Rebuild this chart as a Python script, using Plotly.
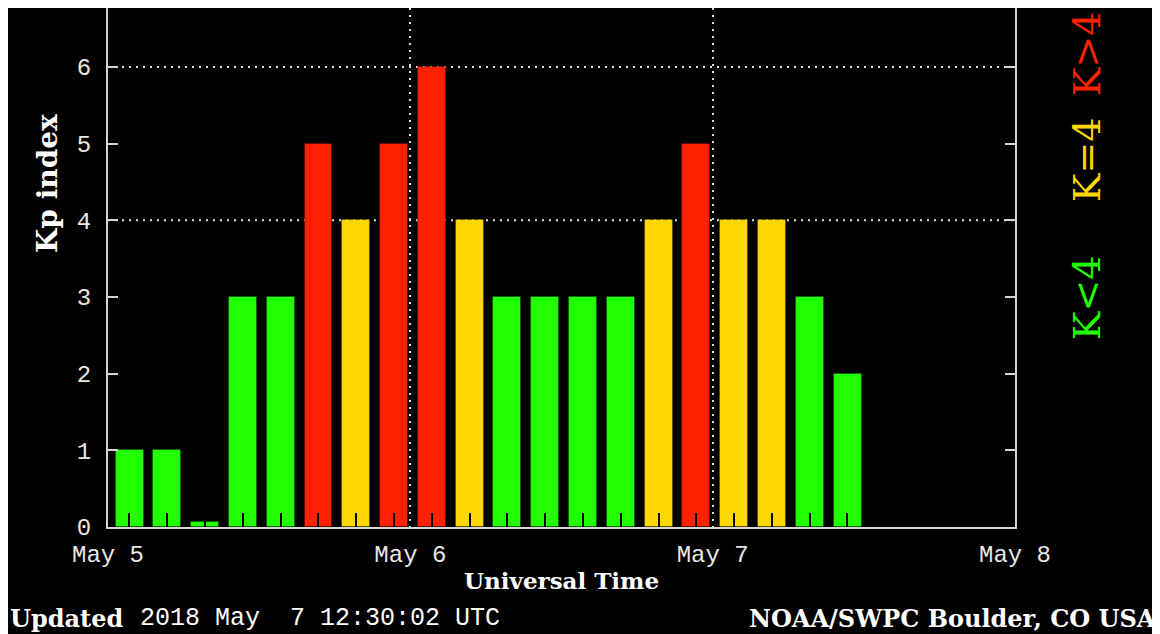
import plotly.graph_objects as go

# ---- data ----
interval_start = [
    "2018-05-05 00:00", "2018-05-05 03:00", "2018-05-05 06:00", "2018-05-05 09:00",
    "2018-05-05 12:00", "2018-05-05 15:00", "2018-05-05 18:00", "2018-05-05 21:00",
    "2018-05-06 00:00", "2018-05-06 03:00", "2018-05-06 06:00", "2018-05-06 09:00",
    "2018-05-06 12:00", "2018-05-06 15:00", "2018-05-06 18:00", "2018-05-06 21:00",
    "2018-05-07 00:00", "2018-05-07 03:00", "2018-05-07 06:00", "2018-05-07 09:00",
]
kp_values = [1, 1, 0.07, 3, 3, 5, 4, 5,
             6, 4, 3, 3, 3, 3, 4, 5,
             4, 4, 3, 2]
y_ticks = [0, 1, 2, 3, 4, 5, 6]
x_range = ["2018-05-05 00:00", "2018-05-08 00:00"]
grid_levels = [4, 6]
legend_labels = ["K<4", "K=4", "K>4"]
title_y = "Kp index"
title_x = "Universal Time"
updated_label = "Updated"
updated_time = "2018 May\u00a0\u00a07 12:30:02 UTC"
credit = "NOAA/SWPC Boulder, CO USA"

GREEN, YELLOW, RED = "#22ff00", "#ffd700", "#ff2200"
bar_colors = [GREEN if v < 4 else (YELLOW if v == 4 else RED) for v in kp_values]

HOUR = 3600 * 1000
W, H = 1148, 626
ML, MR, MT, MB = 100, 141, 0, 107
PW, PH = W - ML - MR, H - MT - MB


def px(x):
    return (x - ML) / PW


def py(y):
    return (MT + PH - y) / PH


fig = go.Figure()
fig.add_trace(go.Bar(
    x=interval_start, y=kp_values,
    offset=0.6 * HOUR, width=2.22 * HOUR,
    marker=dict(color=bar_colors, line=dict(width=1, color="rgba(0,0,0,0.25)")),
    showlegend=False, hoverinfo="x+y",
))

axis_col = "#d4d4d4"
tick_font = dict(family="Liberation Mono", size=24, color="#e8e8e8")
fig.update_layout(
    width=W, height=H,
    margin=dict(l=ML, r=MR, t=MT, b=MB, autoexpand=False),
    paper_bgcolor="black", plot_bgcolor="black",
    bargap=0,
    xaxis=dict(
        type="date", range=x_range, dtick=86400000, tick0=x_range[0],
        tickformat="%b %-d", ticks="", showline=True, linecolor=axis_col, linewidth=2,
        mirror=False, zeroline=False,
        showgrid=True, gridcolor="#e0e0e0", gridwidth=2, griddash="2px,5px",
        tickfont=tick_font,
        ticklabelstandoff=4,
        minor=dict(ticks="inside", ticklen=14, tickwidth=2, tickcolor="black",
                   dtick=3 * HOUR, tick0="2018-05-05 01:42", showgrid=False),
        fixedrange=True,
    ),
    yaxis=dict(
        range=[0, 6.77], tickvals=y_ticks, ticks="inside", ticklen=10, tickwidth=2,
        tickcolor=axis_col, showline=True, linecolor=axis_col, linewidth=2,
        mirror="ticks", showgrid=False, zeroline=False,
        tickfont=tick_font,
        ticklabelstandoff=10,
        fixedrange=True,
    ),
)

for lvl in grid_levels:
    fig.add_shape(type="line", xref="paper", x0=0, x1=1, yref="y", y0=lvl, y1=lvl,
                  line=dict(color="#e0e0e0", width=2, dash="2px,5px"), layer="below")

serif_b = dict(family="DejaVu Serif", color="white")
annos = [
    dict(text="<b>" + title_y + "</b>", x=px(39), y=py(176), textangle=-90,
         xanchor="center", yanchor="middle", font=dict(size=28, **serif_b)),
    dict(text="<b>" + title_x + "</b>", x=px(553), y=py(572),
         xanchor="center", yanchor="middle", font=dict(size=23, **serif_b)),
    dict(text="<b>" + updated_label + "</b>", x=px(0), y=py(610),
         xanchor="left", yanchor="middle", font=dict(size=24, **serif_b)),
    dict(text=updated_time, x=px(130), y=py(610),
         xanchor="left", yanchor="middle",
         font=dict(family="Liberation Mono", size=25, color="white")),
    dict(text="<b>" + credit + "</b>", x=px(1150), y=py(610),
         xanchor="right", yanchor="middle", font=dict(size=24, **serif_b)),
]
for lab, col, yy in zip(legend_labels, [GREEN, YELLOW, RED], [290, 152, 46]):
    annos.append(dict(text=lab, x=px(1079), y=py(yy), textangle=-90,
                      xanchor="center", yanchor="middle",
                      font=dict(family="DejaVu Serif", size=38, color=col)))
for a in annos:
    a.update(xref="paper", yref="paper", showarrow=False)
    fig.add_annotation(**a)

fig.write_html("out.html")
